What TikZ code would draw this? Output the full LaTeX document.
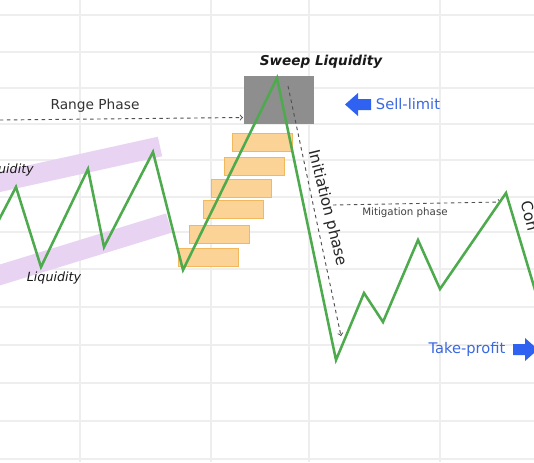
\documentclass[tikz,border=0pt]{standalone}
\usepackage{fontspec}
\setmainfont{DejaVu Sans}
\definecolor{pricegreen}{HTML}{4DAA4D}
\definecolor{gridgray}{HTML}{EEEEEE}
\definecolor{lilac}{HTML}{E8D4F2}
\definecolor{obfill}{HTML}{FCD396}
\definecolor{obdraw}{HTML}{F2B95C}
\definecolor{sweepgray}{HTML}{8E8E8E}
\definecolor{guidegray}{HTML}{505050}
\definecolor{signblue}{HTML}{2F62F0}
\definecolor{signtext}{HTML}{3A68E0}

\begin{document}
\begin{tikzpicture}[x=0.75pt,y=0.75pt,yscale=-1,xscale=1,
  price/.style={draw=pricegreen,line width=1.9pt,line join=miter},
  band/.style={draw=lilac,line width=15pt},
  obox/.style={fill=obfill,draw=obdraw,line width=0.7pt},
  guide/.style={draw=guidegray,line width=0.7pt,dash pattern=on 2.6pt off 2.6pt,->},
  gridline/.style={draw=gridgray,line width=0.8pt},
  sign/.style={fill=signblue},
  lbl/.style={inner sep=0pt}]
\useasboundingbox (0,0) rectangle (534,462);
\clip (0,0) rectangle (534,462);
\fill[white] (0,0) rectangle (534,462);

%Grid
\foreach \y in {15,52,88,124,160,197,232,269,307,345,383,421,459}
  \draw[gridline] (0,\y) -- (534,\y);
\foreach \x in {80,211,309,440}
  \draw[gridline] (\x,0) -- (\x,462);

%Liquidity bands
\draw[band] (-10,184) -- (160,146.5);
\draw[band] (-10,278) -- (169,223);

%Shape: Rectangle (sweep zone)
\fill[sweepgray] (244,76) rectangle (314,124);

%Shape: Rectangles (order blocks)
\foreach \xa/\ya in {232/133,224/157,211/179,203/200,189/225,178/248}
  \draw[obox] (\xa,\ya) rectangle ++(60,18);

%Price points
\coordinate (p0) at (-10,237);
\coordinate (p1) at (16,187);
\coordinate (p2) at (41,267);
\coordinate (p3) at (88,169);
\coordinate (p4) at (104,247);
\coordinate (p5) at (153,152);
\coordinate (p6) at (183,270);
\coordinate (peak) at (277,78);
\coordinate (low) at (336,360);
\coordinate (p9) at (364,293);
\coordinate (p10) at (383,322);
\coordinate (p11) at (418,240);
\coordinate (p12) at (440,289);
\coordinate (top) at (506,193);
\coordinate (p14) at (541,310);

%Guide points
\coordinate (rangeA) at (0,120);
\coordinate (rangeB) at (243,117.5);
\coordinate (initA) at (288,86);
\coordinate (initB) at (341,336);
\coordinate (mitiA) at (333,205);
\coordinate (mitiB) at (501,202);

%Dashed Lines
\draw[guide] (rangeA) -- (rangeB);
\draw[guide] (initA) -- (initB);
\draw[guide] (mitiA) -- (mitiB);

%Price line
\draw[price] (p0) -- (p1) -- (p2) -- (p3) -- (p4) -- (p5) -- (p6) -- (peak)
  -- (low) -- (p9) -- (p10) -- (p11) -- (p12) -- (top) -- (p14);

%Arrows
\fill[sign] (345,104.5) -- (358,93) -- (358,99) -- (371,99) -- (371,110) -- (358,110) -- (358,116) -- cycle;
\fill[sign] (538,349.5) -- (525,338) -- (525,344) -- (513,344) -- (513,355) -- (525,355) -- (525,361) -- cycle;

%Labels
\node[lbl,text=black!80,font=\fontsize{10.3}{12}\selectfont] (rangelbl) at (95,106) {Range Phase};
\node[lbl,text=black!90,font=\fontsize{10.2}{12}\selectfont\bfseries\itshape] (sweeplbl) at (321,62) {Sweep Liquidity};
\node[lbl,text=signtext,font=\fontsize{11}{13}\selectfont] (selllbl) at (408,104) {Sell-limit};
\node[lbl,text=signtext,font=\fontsize{11}{13}\selectfont] (tplbl) at (467,349) {Take-profit};
\node[lbl,text=black!75,font=\fontsize{7.7}{9}\selectfont] (mitilbl) at (405,213) {Mitigation phase};
\node[lbl,text=black!85,rotate=-76,font=\fontsize{11.5}{13}\selectfont] (initlbl) at (327,208) {Initiation phase};
\node[lbl,text=black!85,rotate=-76,anchor=west,font=\fontsize{11.5}{13}\selectfont] (conlbl) at (526,201) {Con};
\node[lbl,text=black!90,anchor=east,font=\fontsize{9.5}{11}\selectfont\itshape] (liqhi) at (34,170) {Liquidity};
\node[lbl,text=black!90,font=\fontsize{9.5}{11}\selectfont\itshape] (liqlo) at (54,278) {Liquidity};
\end{tikzpicture}
\end{document}
